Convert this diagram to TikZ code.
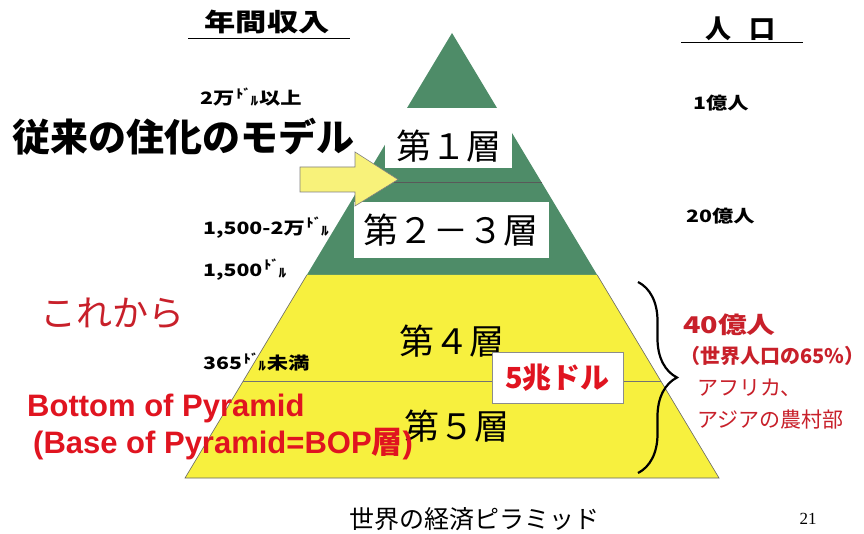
\documentclass[tikz,border=0pt]{standalone}
\usepackage{fontspec}
\setmainfont{Liberation Sans}
\newfontfamily\jp{Noto Sans CJK JP}
\newfontfamily\jpw{Noto Sans CJK JP}[FakeStretch=1.25]
\newfontfamily\serifnum{Liberation Serif}
\usetikzlibrary{decorations.pathreplacing}
\definecolor{pgreen}{HTML}{4E8C68}
\definecolor{pyellow}{HTML}{F7F03E}
\definecolor{ayellow}{HTML}{F8F27A}
\definecolor{dred}{HTML}{C8202A}
\definecolor{bred}{HTML}{E01420}
\newcommand{\dol}{\kern0.08em\raisebox{0.4em}{\scalebox{0.72}{ﾄﾞ}}\kern-0.02em\raisebox{-0.05em}{\scalebox{0.72}{ﾙ}}\kern0.05em}
\tikzset{
  lbl/.style={inner sep=0pt, anchor=west},
  small/.style={lbl, font=\jpw\bfseries\fontsize{17}{17}\selectfont},
  layer/.style={inner sep=0pt, font=\jp\fontsize{35}{35}\selectfont},
  whitebox/.style={fill=white, draw=none},
}
\begin{document}
\begin{tikzpicture}[x=1pt,y=-1pt]
\useasboundingbox[fill=white] (0,0) rectangle (864,534);
% pyramid
\fill[pgreen] (452,33) -- (306.8,275) -- (597.2,275) -- cycle;
\fill[pyellow] (306.8,275) -- (597.2,275) -- (719,478) -- (185,478) -- cycle;
\draw[line width=0.6pt, black!60] (306.8,275) -- (185,478) -- (719,478) -- (597.2,275);
\draw[line width=1pt, black!65] (362,183) -- (542,183);
\draw[line width=0.6pt, black!55] (243.2,381) -- (660.8,381);
% white boxes
\fill[whitebox] (385,108) rectangle (512,168);
\fill[whitebox] (354,202) rectangle (549,258);
% arrow
\draw[fill=ayellow, draw=black!50, line width=0.6pt] (300,167) -- (355,167) -- (355,152) -- (398,179.5) -- (355,206) -- (355,192) -- (300,192) -- cycle;
% layer labels
\node[layer] (l1) at (449,146) {第１層};
\node[layer] (l23) at (451,230) {第２－３層};
\node[layer] (l4) at (452,341) {第４層};
\node[layer] (l5) at (457,426) {第５層};
\node[fill=white, draw=black!45, line width=0.6pt, minimum width=131pt, minimum height=51pt, inner sep=0pt,
      font=\jp\bfseries\fontsize{29}{29}\selectfont, text=bred] (five) at (557.5,377.5) {5兆ドル};
% brace
\draw[line width=2.2pt, decorate, decoration={brace, amplitude=39pt, aspect=0.5}] (638,282) -- (638,473);
% headers
\node[inner sep=0pt, font=\jpw\bfseries\fontsize{25}{25}\selectfont] (inc) at (267,22) {年間収入};
\draw[line width=1pt] (188,39) -- (350,39);
\node[inner sep=0pt, font=\jp\bfseries\fontsize{26}{26}\selectfont] (pop) at (740,29) {人\hspace{18pt}口};
\draw[line width=1pt] (681,43) -- (803,43);
% left labels
\node[small] (a1) at (200,97) {2万\dol 以上};
\node[lbl, font=\jp\bfseries\fontsize{38}{38}\selectfont] (model) at (12,137) {従来の住化のモデル};
\node[small] (a2) at (203,228) {1,500-2万\dol};
\node[small] (a3) at (203,270) {1,500\dol};
\node[lbl, font=\jp\fontsize{36}{36}\selectfont, text=dred] (kore) at (40,313) {これから};
\node[small] (a4) at (203,362) {365\dol 未満};
\node[lbl, font=\bfseries\fontsize{31}{31}\selectfont, text=bred] (bop1) at (27,408) {Bottom of Pyramid};
\node[lbl, font=\bfseries\fontsize{31}{31}\selectfont, text=bred] (bop2) at (33,444) {(Base of Pyramid=BOP{\jp\bfseries 層})};
% right labels
\node[small] (b1) at (693,103) {1億人};
\node[small] (b2) at (686,216) {20億人};
\node[lbl, font=\jpw\bfseries\fontsize{23}{23}\selectfont, text=dred] (b3) at (683,325) {40億人};
\node[lbl, font=\jp\bfseries\fontsize{20}{20}\selectfont, text=dred] (b4) at (680,356) {（世界人口の65\%）};
\node[lbl, font=\jp\fontsize{21}{21}\selectfont, text=dred] (b5) at (697,388) {アフリカ、};
\node[lbl, font=\jp\fontsize{21}{21}\selectfont, text=dred] (b6) at (697,420) {アジアの農村部};
% footer
\node[inner sep=0pt, font=\jp\fontsize{25}{25}\selectfont] (title) at (474,519) {世界の経済ピラミッド};
\node[inner sep=0pt, font=\serifnum\fontsize{17}{17}\selectfont] (pg) at (808,519) {21};
\end{tikzpicture}
\end{document}
